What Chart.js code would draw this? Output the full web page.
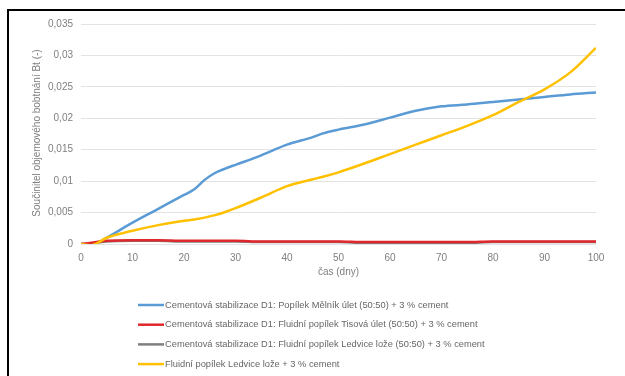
<!DOCTYPE html>
<html>
<head>
<meta charset="utf-8">
<script src="https://cdn.jsdelivr.net/npm/chart.js@4.4.1/dist/chart.umd.min.js"></script>
<style>
  html, body { margin: 0; padding: 0; background: #fff; }
  #wrap { position: relative; width: 625px; height: 376px; overflow: hidden; background: #fff; }
  #frame { position: absolute; left: 7px; top: 9px; width: 700px; height: 400px;
           border-top: 2px solid #000; border-left: 2px solid #000; pointer-events: none; }
  canvas { position: absolute; left: 0; top: 0; }
</style>
</head>
<body>
<div id="wrap">
  <canvas id="chart" width="625" height="376"></canvas>
  <div id="frame"></div>
</div>
<script>
// Measurement days
const days = [0, 2, 5, 10, 15, 20, 22, 24, 26, 28, 30, 35, 40, 45, 47, 50, 55, 60, 65, 70, 75, 80, 85, 90, 95, 100];

// Swelling coefficient Bt (-) for each mixture
const melnikUlet = [0, -0.0002, 0.0010, 0.0034, 0.0056, 0.0078, 0.0087, 0.0102, 0.0113, 0.0120, 0.0126, 0.0141, 0.0158, 0.0170, 0.0176, 0.0182, 0.0190, 0.0201, 0.0212, 0.0219, 0.0222, 0.0226, 0.0230, 0.0234, 0.0238, 0.0241];
const tisovaUlet = [0, 0.0002, 0.0005, 0.0006, 0.0006, 0.0005, 0.0005, 0.0005, 0.0005, 0.0005, 0.0005, 0.0004, 0.0004, 0.0004, 0.0004, 0.0004, 0.0003, 0.0003, 0.0003, 0.0003, 0.0003, 0.0004, 0.0004, 0.0004, 0.0004, 0.0004];
const ledviceLozeMix = [0, 0.0001, 0.0004, 0.0005, 0.0005, 0.0004, 0.0004, 0.0004, 0.0004, 0.0004, 0.0004, 0.0003, 0.0003, 0.0003, 0.0003, 0.0003, 0.0002, 0.0002, 0.0002, 0.0002, 0.0002, 0.0003, 0.0003, 0.0003, 0.0003, 0.0003];
const ledviceLoze = [0, -0.0002, 0.0010, 0.0021, 0.0030, 0.0037, 0.0039, 0.0042, 0.0046, 0.0051, 0.0057, 0.0074, 0.0092, 0.0103, 0.0107, 0.0114, 0.0128, 0.0143, 0.0158, 0.0173, 0.0188, 0.0205, 0.0226, 0.0246, 0.0273, 0.0312];

const seriesLabels = [
  'Cementová stabilizace D1: Popílek Mělník úlet (50:50) + 3 % cement',
  'Cementová stabilizace D1: Fluidní popílek Tisová úlet (50:50) + 3 % cement',
  'Cementová stabilizace D1: Fluidní popílek Ledvice lože (50:50) + 3 % cement',
  'Fluidní popílek Ledvice lože + 3 % cement'
];
const seriesValues = [melnikUlet, tisovaUlet, ledviceLozeMix, ledviceLoze];
const seriesColors = ['#5b9bd5', '#e0282c', '#7f7f7f', '#ffc000'];

const xTitle = 'čas (dny)';
const yTitle = 'Součinitel objemového bobtnání Bt (-)';

const FONT = '"Liberation Sans", Arial, sans-serif';
const TEXT_GRAY = '#7f7f7f';

// Higher order is painted first: gray under red, yellow on top
const seriesOrder = [3, 1, 2, 0];

const datasets = seriesLabels.map((label, i) => ({
  label,
  data: days.map((d, k) => ({ x: d, y: seriesValues[i][k] })),
  borderColor: seriesColors[i],
  backgroundColor: seriesColors[i],
  borderWidth: 2.5,
  pointRadius: 0,
  cubicInterpolationMode: 'monotone',
  fill: false,
  order: seriesOrder[i]
}));

// Vertical list legend under the plot, plus the rotated y-axis title
const annotations = {
  id: 'annotations',
  afterDraw(chart) {
    const ctx = chart.ctx;
    ctx.save();
    ctx.font = '9.3px ' + FONT;
    ctx.textBaseline = 'middle';
    ctx.textAlign = 'left';
    chart.data.datasets.forEach((ds, i) => {
      const y = 305 + i * 19.7;
      ctx.strokeStyle = ds.borderColor;
      ctx.lineWidth = 2.5;
      ctx.beginPath();
      ctx.moveTo(138, y);
      ctx.lineTo(164, y);
      ctx.stroke();
      ctx.fillStyle = '#666666';
      ctx.fillText(ds.label, 165, y);
    });
    ctx.restore();

    ctx.save();
    ctx.translate(37, 133);
    ctx.rotate(-Math.PI / 2);
    ctx.font = '10px ' + FONT;
    ctx.fillStyle = TEXT_GRAY;
    ctx.textAlign = 'center';
    ctx.textBaseline = 'middle';
    ctx.fillText(yTitle, 0, 0);
    ctx.restore();
  }
};

const fmt = v => Number(v.toFixed(3)).toString().replace('.', ',');

new Chart(document.getElementById('chart'), {
  type: 'line',
  data: { datasets },
  options: {
    responsive: false,
    animation: false,
    layout: { padding: { left: 27, right: 29, top: 24, bottom: 96 } },
    plugins: {
      legend: { display: false },
      tooltip: { enabled: false }
    },
    scales: {
      x: {
        type: 'linear',
        min: 0,
        max: 100,
        ticks: { stepSize: 10, color: TEXT_GRAY, font: { family: FONT, size: 10 }, padding: 8 },
        grid: { display: false, drawTicks: false },
        border: { display: false },
        title: { display: true, text: xTitle, color: TEXT_GRAY, font: { family: FONT, size: 10 }, padding: { top: 4, bottom: 2 } },
        afterFit: s => { s.height = 36; }
      },
      y: {
        min: 0,
        max: 0.035,
        ticks: { stepSize: 0.005, color: TEXT_GRAY, font: { family: FONT, size: 10 }, padding: 8, callback: v => fmt(v) },
        grid: { color: '#e3e3e3', lineWidth: 1, drawTicks: false },
        border: { display: false },
        afterFit: s => { s.width = 54; }
      }
    }
  },
  plugins: [annotations]
});
</script>
</body>
</html>
